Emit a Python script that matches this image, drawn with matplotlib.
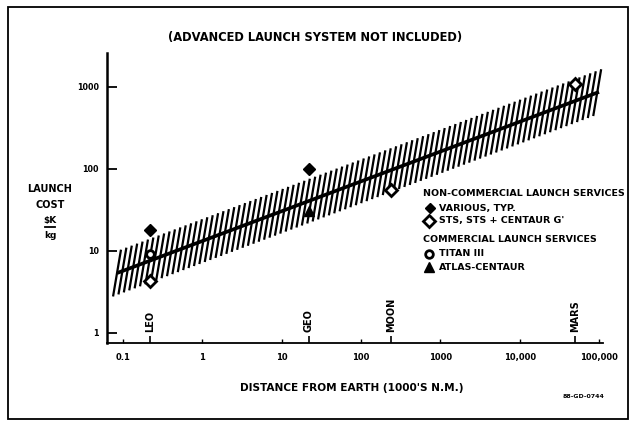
import numpy as np
import matplotlib
matplotlib.use("Agg")
import matplotlib.pyplot as plt
from matplotlib.collections import LineCollection
from matplotlib.patches import Rectangle
from matplotlib.lines import Line2D
from matplotlib.ticker import FixedLocator, NullFormatter
import matplotlib.transforms as mtransforms

# ---------------- data ----------------
title = "(ADVANCED LAUNCH SYSTEM NOT INCLUDED)"
xlabel = "DISTANCE FROM EARTH (1000'S N.M.)"
ylabel_lines = ["LAUNCH", "COST"]
ylabel_num, ylabel_den = "$K", "kg"

# trend line (log-log straight) and uncertainty band
line_x = [0.085, 100000]
line_y = [5.4, 870]
band_x = [0.075, 120000]
band_factor = 1.85          # multiplicative half-width of hatched band

destinations = ["LEO", "GEO", "MOON", "MARS"]
dest_x = [0.22, 22, 240, 50000]

various_x = [0.22, 22]          # non-commercial, various typ. (filled diamond)
various_y = [18, 100]
sts_x = [0.22, 240, 50000]      # STS, STS + Centaur G' (open diamond)
sts_y = [4.3, 55, 1100]
titan_x = [0.22]                # Titan III (open circle)
titan_y = [9.2]
atlas_x = [22]                  # Atlas-Centaur (filled triangle)
atlas_y = [31]

yticks = [1, 10, 100, 1000]
yticklabels = ["1", "10", "100", "1000"]
xticks = [0.1, 1, 10, 100, 1000, 10000, 100000]
xticklabels = ["0.1", "1", "10", "100", "1000", "10,000", "100,000"]

legend_header1 = "NON-COMMERCIAL LAUNCH SERVICES"
legend_items1 = ["VARIOUS, TYP.", "STS, STS + CENTAUR G'"]
legend_header2 = "COMMERCIAL LAUNCH SERVICES"
legend_items2 = ["TITAN III", "ATLAS-CENTAUR"]
drawing_id = "88-GD-0744"

# ---------------- figure ----------------
W, H = 631, 425
fig = plt.figure(figsize=(W / 100, H / 100), dpi=100)
FONT = dict(family="DejaVu Sans", weight="heavy")

def fx(px):
    return px / W

def fy(py):
    return 1 - py / H

ax = fig.add_axes([fx(107), fy(343), (603 - 107) / W, (343 - 53) / H])
ax.set_xscale("log")
ax.set_yscale("log")
ax.set_xlim(10 ** (-1 - 16 / 79.5), 10 ** (5 + 4 / 79.5))
ax.set_ylim(10 ** (-10 / 82), 10 ** ((333 - 53) / 82))

for s in ["top", "right"]:
    ax.spines[s].set_visible(False)
ax.spines["left"].set_linewidth(1.8)
ax.spines["bottom"].set_linewidth(1.3)

# trend line & band
lx = np.log10(line_x)
ly = np.log10(line_y)
slope = (ly[1] - ly[0]) / (lx[1] - lx[0])
icpt = ly[0] - slope * lx[0]

def center(x):
    return 10 ** (icpt + slope * np.log10(x))

shift = 0.10
step = 0.068
starts = np.arange(np.log10(band_x[0]), np.log10(band_x[1]) - shift + 1e-9, step)
segs = []
for s in starts:
    x0 = 10 ** s
    x1 = 10 ** (s + shift)
    segs.append([(x0, center(x0) / band_factor), (x1, center(x1) * band_factor)])
ax.add_collection(LineCollection(segs, colors="black", linewidths=1.6, capstyle="butt"))

xx = np.logspace(lx[0], lx[1], 50)
ax.plot(xx, center(xx), color="black", lw=2.6, solid_capstyle="butt")

# markers
ax.plot(various_x, various_y, "D", color="black", ms=6, ls="none", zorder=5)
ax.plot(sts_x, sts_y, "D", mfc="white", mec="black", mew=2.0, ms=6.5, ls="none", zorder=5)
ax.plot(titan_x, titan_y, "o", mfc="white", mec="black", mew=2.0, ms=5.5, ls="none", zorder=5)
ax.plot(atlas_x, atlas_y, "^", color="black", ms=6.5, ls="none", zorder=5)

# ticks
ax.set_yticks(yticks)
ax.set_yticklabels(yticklabels)
ax.yaxis.set_minor_locator(FixedLocator([]))
ax.tick_params(axis="y", which="major", direction="in", length=7, width=1.3, pad=6,
               labelsize=5.8)
ax.set_xticks(xticks)
ax.set_xticklabels(xticklabels)
ax.xaxis.set_minor_locator(FixedLocator(dest_x))
ax.xaxis.set_minor_formatter(NullFormatter())
ax.tick_params(axis="x", which="major", direction="in", length=3, width=1.0, pad=7,
               labelsize=6)
ax.tick_params(axis="x", which="minor", direction="in", length=5, width=1.2)
for lab in ax.get_xticklabels() + ax.get_yticklabels():
    lab.set_fontweight("heavy")

# destination labels
trans = mtransforms.blended_transform_factory(ax.transData, ax.transAxes)
for name, x in zip(destinations, dest_x):
    ax.text(x, 0.037, name, rotation=90, ha="center", va="bottom", transform=trans,
            fontsize=7, **FONT)

# texts
fig.text(fx(315), fy(38), title, ha="center", va="center", fontsize=8.3, **FONT)
fig.text(fx(352), fy(388), xlabel, ha="center", va="center", fontsize=7.6, **FONT)
fig.text(fx(50), fy(189), ylabel_lines[0], ha="center", va="center", fontsize=7, **FONT)
fig.text(fx(50), fy(205), ylabel_lines[1], ha="center", va="center", fontsize=7, **FONT)
fig.text(fx(50), fy(220), ylabel_num, ha="center", va="center", fontsize=6.5, **FONT)
fig.add_artist(Line2D([fx(45), fx(55)], [fy(227), fy(227)], color="black", lw=1.3,
                      transform=fig.transFigure))
fig.text(fx(50), fy(236), ylabel_den, ha="center", va="center", fontsize=6.5, **FONT)

# legend
LS = 6.8
fig.text(fx(423), fy(193), legend_header1, ha="left", va="center", fontsize=LS, **FONT)
fig.text(fx(439), fy(208), legend_items1[0], ha="left", va="center", fontsize=LS, **FONT)
fig.text(fx(439), fy(221), legend_items1[1], ha="left", va="center", fontsize=LS, **FONT)
fig.text(fx(423), fy(240), legend_header2, ha="left", va="center", fontsize=LS, **FONT)
fig.text(fx(439), fy(254), legend_items2[0], ha="left", va="center", fontsize=LS, **FONT)
fig.text(fx(439), fy(267), legend_items2[1], ha="left", va="center", fontsize=LS, **FONT)
fig.add_artist(Line2D([fx(430)], [fy(208)], marker="D", color="black", ms=5,
                      transform=fig.transFigure))
fig.add_artist(Line2D([fx(429)], [fy(221)], marker="D", mfc="white", mec="black",
                      mew=2.0, ms=6, transform=fig.transFigure))
fig.add_artist(Line2D([fx(429)], [fy(254)], marker="o", mfc="white", mec="black",
                      mew=2.0, ms=5.5, transform=fig.transFigure))
fig.add_artist(Line2D([fx(429)], [fy(267)], marker="^", color="black", ms=6.5,
                      transform=fig.transFigure))

fig.text(fx(584), fy(397), drawing_id, ha="center", va="center", fontsize=4.5, **FONT)

# outer frame
fig.add_artist(Rectangle((fx(8), fy(419)), (628 - 8) / W, (419 - 7) / H, fill=False,
                         lw=1.3, ec="black", transform=fig.transFigure))

fig.savefig("out.png", dpi=100, facecolor="white")
